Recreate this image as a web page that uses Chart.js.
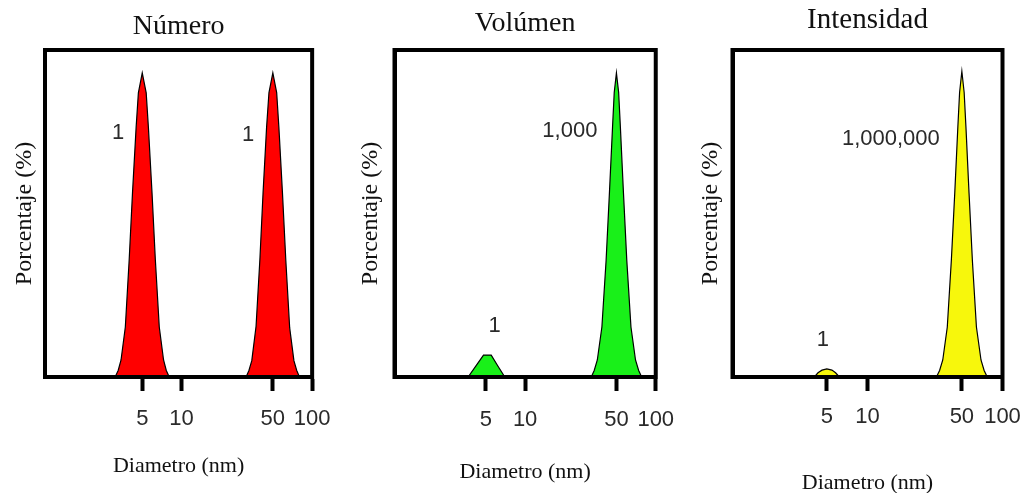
<!DOCTYPE html>
<html>
<head>
<meta charset="utf-8">
<script src="https://cdn.jsdelivr.net/npm/chart.js@4/dist/chart.umd.min.js"></script>
<style>
  html, body { margin: 0; padding: 0; background: #fff; overflow: hidden; }
  #wrap { position: relative; width: 1034px; height: 493px; }
  canvas { position: absolute; top: 0; }
</style>
</head>
<body>
<div id="wrap">
  <canvas id="Chart_Numero" width="345" height="493" style="left:0px"></canvas>
  <canvas id="Chart_Volumen" width="345" height="493" style="left:345px"></canvas>
  <canvas id="Chart_Intensidad" width="344" height="493" style="left:690px"></canvas>
</div>
<script>
const tickValues = [5, 10, 50, 100];
const xTitle = 'Diametro (nm)';
const yTitle = 'Porcentaje (%)';

// Número: two equal peaks
const numeroA_x = [3.10, 3.27, 3.44, 3.71, 3.97, 4.21, 4.49, 4.67, 5.00, 5.36, 5.57, 5.94, 6.30, 6.75, 7.28, 7.64, 8.05];
const numeroA_y = [0, 2, 5.2, 15.3, 35.8, 56.3, 76.5, 86.9, 93, 86.9, 76.5, 56.3, 35.8, 15.3, 5.2, 2, 0];
const numeroB_x = [31.2, 32.8, 34.5, 37.2, 39.8, 42.1, 44.8, 46.7, 50.0, 53.5, 55.6, 59.3, 62.9, 67.3, 72.5, 76.2, 80.0];
const numeroB_y = [0, 2, 5, 15.5, 36, 56.5, 76.5, 87, 93, 87, 76.5, 56, 35.5, 15, 5, 2, 0];
const numeroNotes = ['1', '1'];
const numeroNoteX = [3.26, 32.3];
const numeroNoteY = [74.5, 74];

// Volúmen
const volumenA_x = [3.66, 4.19, 4.80, 5.50, 6.20, 6.99];
const volumenA_y = [0, 3.3, 6.7, 6.7, 3.3, 0];
const volumenB_x = [32.1, 33.8, 35.7, 38.7, 41.7, 44.2, 46.7, 48.1, 50.0, 52.0, 53.6, 56.6, 60.0, 64.6, 70.0, 74.0, 78.0];
const volumenB_y = [0, 2, 5.2, 15.3, 35.8, 56.3, 76.5, 87, 93, 87, 76.5, 56.3, 35.8, 15.3, 5.2, 2, 0];
const volumenNotes = ['1', '1,000'];
const volumenNoteX = [5.83, 22.0];
const volumenNoteY = [15.6, 75.3];

// Intensidad
const intensidadA_x = [4.04, 4.30, 4.60, 5.00, 5.45, 5.80, 6.19];
const intensidadA_y = [0, 1.3, 2.1, 2.45, 2.1, 1.3, 0];
const intensidadB_x = [32.4, 34.2, 36.1, 39.0, 41.8, 44.3, 46.7, 48.1, 50.0, 52.0, 53.6, 56.5, 59.8, 64.1, 69.3, 73.1, 77.1];
const intensidadB_y = [0, 2, 5.2, 15.3, 35.8, 56.3, 76.5, 87, 93.5, 87, 76.5, 56.3, 35.8, 15.3, 5.2, 2, 0];
const intensidadNotes = ['1', '1,000,000'];
const intensidadNoteX = [4.68, 14.9];
const intensidadNoteY = [11.3, 72.7];

const SERIF = "'Liberation Serif', 'Times New Roman', serif";
const SANS = "'Liberation Sans', Arial, sans-serif";
Chart.defaults.font.family = SANS;

const framePlugin = {
  id: 'frame',
  afterDatasetsDraw(chart) {
    const { ctx, chartArea: a } = chart;
    ctx.save();
    ctx.strokeStyle = '#000';
    ctx.lineWidth = 4;
    ctx.strokeRect(a.left, a.top, a.right - a.left, a.bottom - a.top);
    ctx.restore();
  }
};

const notesPlugin = {
  id: 'notes',
  afterDraw(chart, args, opts) {
    const { ctx, scales } = chart;
    ctx.save();
    ctx.font = `22px ${SANS}`;
    ctx.fillStyle = '#2a2a2a';
    ctx.textAlign = 'center';
    ctx.textBaseline = 'middle';
    opts.text.forEach((t, i) => {
      ctx.fillText(t, scales.x.getPixelForValue(opts.x[i]), scales.y.getPixelForValue(opts.y[i]));
    });
    ctx.restore();
  }
};

const makeChart = (elId, cfg) => {
  const datasets = cfg.peaks.map(p => ({
    data: p[0].map((v, i) => ({ x: v, y: p[1][i] })),
    backgroundColor: cfg.fill,
    borderColor: '#000',
    borderWidth: 1.2,
    fill: 'origin',
    pointRadius: 0,
    tension: 0
  }));
  return new Chart(document.getElementById(elId), {
    type: 'line',
    data: { datasets },
    plugins: [framePlugin, notesPlugin],
    options: {
      responsive: false,
      animation: false,
      devicePixelRatio: 1,
      layout: { padding: { left: 0, right: cfg.padRight, top: 0, bottom: 0 } },
      plugins: {
        legend: { display: false },
        tooltip: { enabled: false },
        title: {
          display: true,
          text: cfg.title,
          fullSize: false,
          color: '#111',
          font: { family: SERIF, size: cfg.titleSize, weight: 'normal' },
          padding: { top: cfg.titleTop, bottom: cfg.titleBottom }
        },
        notes: cfg.notes
      },
      scales: {
        x: {
          type: 'logarithmic',
          min: cfg.xMin,
          max: 100,
          afterBuildTicks: s => { s.ticks = tickValues.map(v => ({ value: v })); },
          afterFit: s => { s.height = 493 - 377; },
          ticks: {
            callback: v => String(v),
            autoSkip: false,
            maxRotation: 0,
            padding: cfg.tickPad,
            color: '#2a2a2a',
            font: { family: SANS, size: 22 }
          },
          grid: { drawOnChartArea: false, drawTicks: true, tickLength: 14, tickWidth: 4, tickColor: '#000' },
          border: { display: true, width: 4, color: '#000' },
          title: {
            display: true,
            text: xTitle,
            color: '#111',
            font: { family: SERIF, size: 22 },
            padding: { top: 0, bottom: cfg.xTitleBottom }
          }
        },
        y: {
          min: 0,
          max: 100,
          afterFit: s => { s.width = cfg.yWidth; },
          ticks: { display: false },
          grid: { display: false },
          border: { display: true, width: 4, color: '#000' },
          title: {
            display: true,
            text: yTitle,
            color: '#111',
            font: { family: SERIF, size: 24 },
            padding: { top: cfg.yTitlePad, bottom: 0 }
          }
        }
      }
    }
  });
};

makeChart('Chart_Numero', {
  title: 'Número', titleSize: 28, titleTop: 9.7, titleBottom: 6.7,
  fill: '#ff0000', xMin: 0.9, yWidth: 45, padRight: 30.5, yTitlePad: 10.8,
  tickPad: 14.5, xTitleBottom: 13.8,
  peaks: [[numeroA_x, numeroA_y], [numeroB_x, numeroB_y]],
  notes: { text: numeroNotes, x: numeroNoteX, y: numeroNoteY }
});

makeChart('Chart_Volumen', {
  title: 'Volúmen', titleSize: 28, titleTop: 6.7, titleBottom: 9.7,
  fill: '#19f019', xMin: 1, yWidth: 49.5, padRight: 27.5, yTitlePad: 11.8,
  tickPad: 15.9, xTitleBottom: 7.3,
  peaks: [[volumenA_x, volumenA_y], [volumenB_x, volumenB_y]],
  notes: { text: volumenNotes, x: volumenNoteX, y: volumenNoteY }
});

makeChart('Chart_Intensidad', {
  title: 'Intensidad', titleSize: 29, titleTop: 2.6, titleBottom: 12.6,
  fill: '#f7f70c', xMin: 1, yWidth: 42.5, padRight: 31.5, yTitlePad: 6.8,
  tickPad: 12.9, xTitleBottom: -3.7,
  peaks: [[intensidadA_x, intensidadA_y], [intensidadB_x, intensidadB_y]],
  notes: { text: intensidadNotes, x: intensidadNoteX, y: intensidadNoteY }
});
</script>
</body>
</html>
